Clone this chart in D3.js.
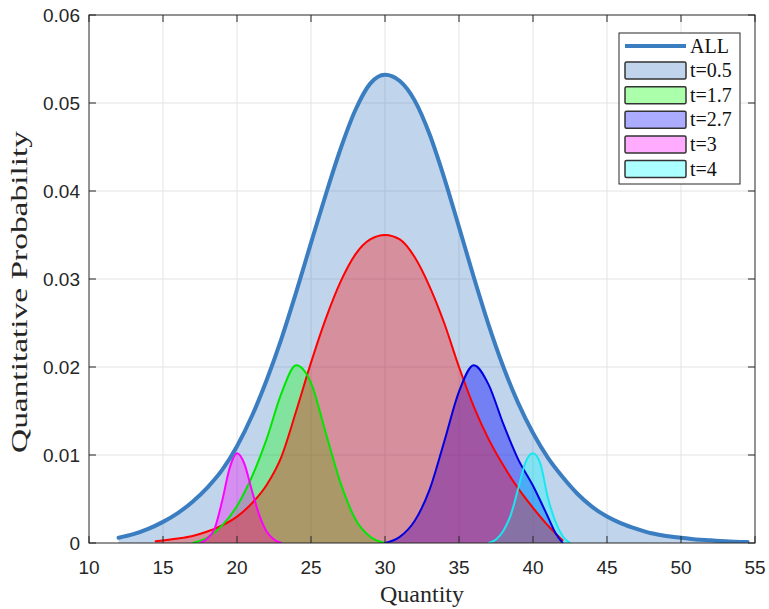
<!DOCTYPE html>
<html>
<head>
<meta charset="utf-8">
<script src="https://cdn.jsdelivr.net/npm/d3@7"></script>
<style>
  body { margin: 0; background: #fff; }
  svg { display: block; }
</style>
</head>
<body>
<div id="chart"></div>
<script>
// values
const xTicks = [10, 15, 20, 25, 30, 35, 40, 45, 50, 55];
const yTicks = [0, 0.01, 0.02, 0.03, 0.04, 0.05, 0.06];

const allQty  = [12, 13, 14, 15, 16, 17, 18, 19, 20, 21, 22, 23, 24, 25, 26, 27, 28, 29, 30,
                 31, 32, 33, 34, 35, 36, 37, 38, 39, 40, 41, 42, 43, 44, 45, 46, 47, 48, 49, 50,
                 51, 52, 53, 54.5];
const allProb = [0.0006, 0.0010, 0.0016, 0.0024, 0.0034, 0.0047, 0.0063, 0.0083, 0.0110, 0.0144, 0.0185,
                 0.0232, 0.0285, 0.0341, 0.0396, 0.0448, 0.0492, 0.0522, 0.0532,
                 0.0525, 0.0503, 0.0465, 0.0415, 0.0359, 0.0302, 0.0248, 0.0200, 0.0159, 0.0125, 0.0097,
                 0.0075, 0.0056, 0.0041, 0.0030, 0.0022, 0.0016, 0.0011, 0.0008, 0.0006,
                 0.0004, 0.0003, 0.0002, 0.0001];

const redQty  = [14.5, 16, 17, 18, 19, 20, 21, 22, 23, 24, 25, 26, 27, 28, 29, 30,
                 31, 32, 33, 34, 35, 36, 37, 38, 39, 40, 41, 42];
const redProb = [0.0002, 0.0005, 0.0008, 0.0013, 0.0020, 0.0030, 0.0045, 0.0066, 0.0098, 0.0150, 0.0205, 0.0255,
                 0.0297, 0.0328, 0.0345, 0.0350, 0.0345, 0.0325, 0.0292, 0.0250, 0.0200, 0.0155, 0.0118,
                 0.0088, 0.0062, 0.0040, 0.0020, 0.0003];

const greenQty  = [17, 18, 19, 20, 21, 22, 23, 24, 25, 26, 27, 28, 29, 30];
const greenProb = [0, 0.0006, 0.0020, 0.0042, 0.0075, 0.0118, 0.0170, 0.0202, 0.0182, 0.0125, 0.0068, 0.0027, 0.0007, 0];

const blueQty  = [30, 31, 32, 33, 34, 35, 36, 37, 38, 39, 40, 41, 41.5, 42];
const blueProb = [0, 0.0007, 0.0025, 0.0060, 0.0115, 0.0172, 0.0202, 0.0180, 0.0135, 0.0095, 0.0065, 0.0030, 0.0012, 0];

const magentaQty  = [17.5, 18, 18.5, 19, 19.5, 20, 20.5, 21, 21.5, 22, 22.5, 23];
const magentaProb = [0, 0.0005, 0.0017, 0.0048, 0.0085, 0.0102, 0.0090, 0.0060, 0.0032, 0.0013, 0.0004, 0];

const cyanQty  = [37, 37.5, 38, 38.5, 39, 39.5, 40, 40.5, 41, 41.5, 42, 42.5];
const cyanProb = [0, 0.0004, 0.0014, 0.0032, 0.0062, 0.0092, 0.0102, 0.0090, 0.0052, 0.0025, 0.0008, 0];

const legendLabels = ["ALL", "t=0.5", "t=1.7", "t=2.7", "t=3", "t=4"];

// chart geometry
const W = 769, H = 609;
const margin = {top: 15, right: 14, bottom: 66, left: 89};
const width = W - margin.left - margin.right,
      height = H - margin.top - margin.bottom;

const axisColor = "#262626";
const allColor = "rgb(58,125,192)";

const svg = d3.select("#chart")
    .append("svg")
        .attr("width", W)
        .attr("height", H)
    .append("g")
        .attr("transform", "translate(" + margin.left + "," + margin.top + ")");

const x = d3.scaleLinear().domain([10, 55]).range([0, width]);
const y = d3.scaleLinear().domain([0, 0.06]).range([height, 0]);

// grid
svg.append("g")
    .selectAll("line")
    .data(xTicks.slice(1, -1))
    .enter().append("line")
        .attr("x1", d => x(d)).attr("x2", d => x(d))
        .attr("y1", 0).attr("y2", height)
        .attr("stroke", "#e3e3e3");
svg.append("g")
    .selectAll("line")
    .data(yTicks.slice(1, -1))
    .enter().append("line")
        .attr("y1", d => y(d)).attr("y2", d => y(d))
        .attr("x1", 0).attr("x2", width)
        .attr("stroke", "#e3e3e3");

// clip
svg.append("defs")
    .append("clipPath")
        .attr("id", "main-clip")
    .append("rect")
        .attr("width", width)
        .attr("height", height);
const plot = svg.append("g").attr("clip-path", "url(#main-clip)");

function zip(xs, ys) { return xs.map((v, i) => ({q: v, p: ys[i]})); }

const area = d3.area()
    .curve(d3.curveMonotoneX)
    .x(d => x(d.q))
    .y0(y(0))
    .y1(d => y(d.p));
const line = d3.line()
    .curve(d3.curveMonotoneX)
    .x(d => x(d.q))
    .y(d => y(d.p));

// draw order matters for the colour mixing
const series = [
    {name: "all",     data: zip(allQty, allProb),         fill: allColor, alpha: 0.32, stroke: allColor, sw: 4},
    {name: "green",   data: zip(greenQty, greenProb),     fill: "#00ff00", alpha: 0.33, stroke: "#00e600", sw: 2},
    {name: "blue",    data: zip(blueQty, blueProb),       fill: "#0000ff", alpha: 0.4,  stroke: "#0000e0", sw: 2},
    {name: "magenta", data: zip(magentaQty, magentaProb), fill: "#ff00ff", alpha: 0.33, stroke: "#ff00ff", sw: 2},
    {name: "cyan",    data: zip(cyanQty, cyanProb),       fill: "#00ffff", alpha: 0.33, stroke: "#19e6f0", sw: 2},
    {name: "red",     data: zip(redQty, redProb),         fill: "#ff0000", alpha: 0.33, stroke: "#ff0000", sw: 2}
];

series.forEach(s => {
    plot.append("path")
        .datum(s.data)
        .attr("d", area)
        .attr("fill", s.fill)
        .attr("fill-opacity", s.alpha)
        .attr("stroke", "none");
});
// lines: red under the others, ALL on top
["red", "green", "blue", "magenta", "cyan", "all"].forEach(n => {
    const s = series.find(d => d.name === n);
    plot.append("path")
        .datum(s.data)
        .attr("d", line)
        .attr("fill", "none")
        .attr("stroke", s.stroke)
        .attr("stroke-width", s.sw)
        .attr("stroke-linejoin", "round")
        .attr("stroke-linecap", "round");
});

// box and ticks
svg.append("rect")
    .attr("width", width).attr("height", height)
    .attr("fill", "none").attr("stroke", axisColor).attr("stroke-width", 1);

const tickLen = 7;
const ticks = svg.append("g").attr("stroke", axisColor);
xTicks.forEach(t => {
    ticks.append("line").attr("x1", x(t)).attr("x2", x(t)).attr("y1", height).attr("y2", height - tickLen);
    ticks.append("line").attr("x1", x(t)).attr("x2", x(t)).attr("y1", 0).attr("y2", tickLen);
});
yTicks.forEach(t => {
    ticks.append("line").attr("y1", y(t)).attr("y2", y(t)).attr("x1", 0).attr("x2", tickLen);
    ticks.append("line").attr("y1", y(t)).attr("y2", y(t)).attr("x1", width).attr("x2", width - tickLen);
});

svg.append("g")
    .selectAll("text")
    .data(xTicks)
    .enter().append("text")
        .attr("x", d => x(d))
        .attr("y", height + 31)
        .attr("text-anchor", "middle")
        .attr("font-family", "Liberation Sans, Arial, sans-serif")
        .attr("font-size", 19)
        .attr("fill", axisColor)
        .text(d => d);

svg.append("g")
    .selectAll("text")
    .data(yTicks)
    .enter().append("text")
        .attr("x", -9)
        .attr("y", d => y(d) + 7)
        .attr("text-anchor", "end")
        .attr("font-family", "Liberation Sans, Arial, sans-serif")
        .attr("font-size", 19)
        .attr("fill", axisColor)
        .text(d => d === 0 ? "0" : d3.format(".2f")(d));

// axis labels
svg.append("text")
    .attr("x", width / 2)
    .attr("y", height + 59)
    .attr("text-anchor", "middle")
    .attr("font-family", "Liberation Serif, Times New Roman, serif")
    .attr("font-size", 24)
    .attr("fill", axisColor)
    .text("Quantity");

// the y label is stretched along its length in the reference
svg.append("text")
    .attr("transform", "rotate(-90)")
    .attr("x", -(height / 2 + 13))
    .attr("y", -62)
    .attr("text-anchor", "middle")
    .attr("font-family", "Liberation Serif, Times New Roman, serif")
    .attr("font-size", 24)
    .attr("textLength", 322)
    .attr("lengthAdjust", "spacingAndGlyphs")
    .attr("fill", axisColor)
    .text("Quantitative Probability");

// legend
const legend = svg.append("g")
    .attr("transform", "translate(" + (619 - margin.left) + "," + (33 - margin.top) + ")");
legend.append("rect")
    .attr("width", 121).attr("height", 151)
    .attr("fill", "#fff").attr("stroke", axisColor).attr("stroke-width", 1);

const legendColors = [allColor, allColor, "#00ff00", "#0000ff", "#ff00ff", "#00ffff"];
const rowY = i => 13 + i * 24.6;

legend.append("line")
    .attr("x1", 6).attr("x2", 67)
    .attr("y1", rowY(0)).attr("y2", rowY(0))
    .attr("stroke", allColor).attr("stroke-width", 4);

legend.selectAll("rect.patchfill")
    .data(legendLabels.slice(1))
    .enter().append("rect")
        .attr("class", "patchfill")
        .attr("x", 6)
        .attr("y", (d, i) => rowY(i + 1) - 8.5)
        .attr("width", 61).attr("height", 17)
        .attr("rx", 1.5)
        .attr("fill", (d, i) => legendColors[i + 1])
        .attr("fill-opacity", (d, i) => i === 0 ? 0.32 : 0.33)
        .attr("stroke", "#333")
        .attr("stroke-width", 1.5);

legend.selectAll("text")
    .data(legendLabels)
    .enter().append("text")
        .attr("x", 71)
        .attr("y", (d, i) => rowY(i) + 6.5)
        .attr("font-family", "Liberation Serif, Times New Roman, serif")
        .attr("font-size", 20)
        .attr("fill", "#111")
        .text(d => d);
</script>
</body>
</html>
